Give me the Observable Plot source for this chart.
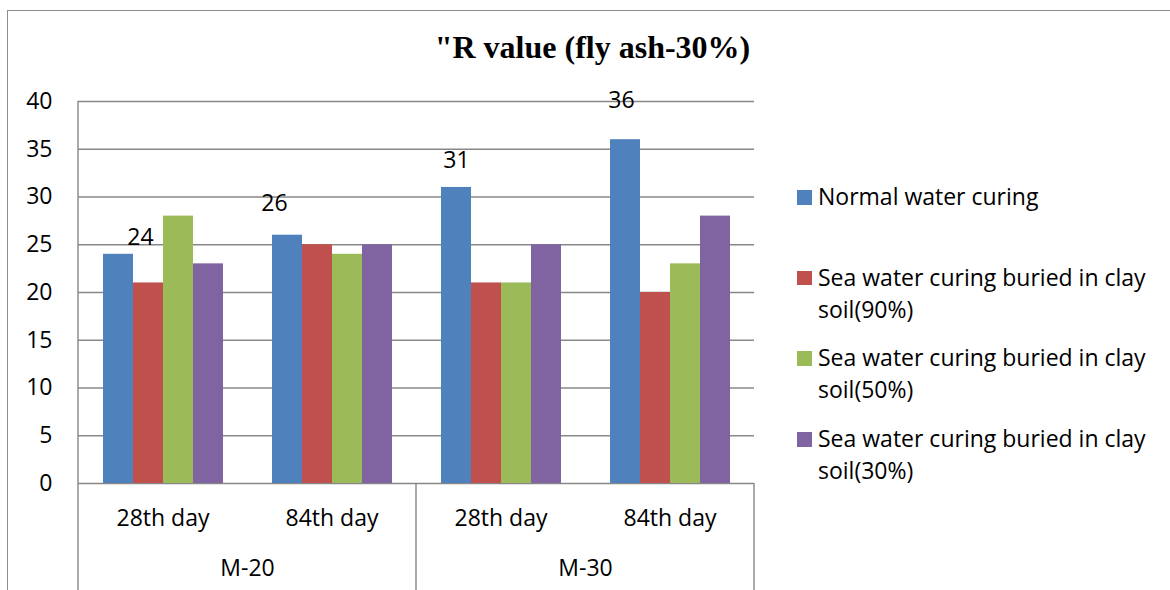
<!DOCTYPE html>
<html>
<head>
<meta charset="utf-8">
<script src="https://cdn.jsdelivr.net/npm/d3@7"></script>
<script src="https://cdn.jsdelivr.net/npm/@observablehq/plot@0.6"></script>
<style>
  body { margin: 0; background: #fff; }
  #wrap { position: relative; width: 1170px; height: 590px; overflow: hidden; font-family: "Open Sans", sans-serif; color: #000; }
  #frame { position: absolute; left: 7px; top: 10px; width: 1300px; height: 700px; border-top: 1.5px solid #8e8e8e; border-left: 1.5px solid #8e8e8e; }
  #title { position: absolute; left: 0; top: 31px; width: 1185px; text-align: center; font: bold 32px/32px "Liberation Serif", "Times New Roman", serif; white-space: nowrap; }
  #chart { position: absolute; left: 0; top: 0; }
  #legend { position: absolute; left: 797px; top: 180px; width: 370px; }
  .entry { position: relative; height: 80.7px; font-size: 23px; line-height: 32px; }
  .sw { position: absolute; left: 0; top: 10px; width: 14.5px; height: 14.5px; }
  .lbl { position: absolute; left: 21px; top: 0; white-space: nowrap; }
</style>
</head>
<body>
<div id="wrap">
  <div id="frame"></div>
  <div id="chart"></div>
  <div id="title"></div>
  <div id="legend"></div>
</div>
<script>
// ---- data ----
const titleText = "\"R value (fly ash-30%)";
const grades = ["M-20", "M-20", "M-30", "M-30"];
const days = ["28th day", "84th day", "28th day", "84th day"];
const seriesNames = [
  "Normal water curing",
  "Sea water curing buried in clay soil(90%)",
  "Sea water curing buried in clay soil(50%)",
  "Sea water curing buried in clay soil(30%)"
];
const legendLines = [
  ["Normal water curing"],
  ["Sea water curing buried in clay", "soil(90%)"],
  ["Sea water curing buried in clay", "soil(50%)"],
  ["Sea water curing buried in clay", "soil(30%)"]
];
const normalWater = [24, 26, 31, 36];
const sea90 = [21, 25, 21, 20];
const sea50 = [28, 24, 21, 23];
const sea30 = [23, 25, 25, 28];
const yTicks = [0, 5, 10, 15, 20, 25, 30, 35, 40];
const colors = ["#4f81bd", "#c0504d", "#9bbb59", "#8064a2"];

// ---- build table ----
const keys = grades.map((g, i) => g + "|" + days[i]);
const seriesValues = [normalWater, sea90, sea50, sea30];
const data = [];
keys.forEach((k, i) => seriesNames.forEach((s, j) => data.push({key: k, series: s, value: seriesValues[j][i]})));
const normalData = data.filter(d => d.series === seriesNames[0]);
// label nudges (px) of Excel's hand-placed data labels
const nudges = [[22, -17], [-13, -32], [0, -27], [-4, -39]];
const gradeLabels = [{key: keys[1], text: "M-20"}, {key: keys[3], text: "M-30"}];

const gridColor = "#878787";

const chart = Plot.plot({
  width: 760,
  height: 590,
  marginLeft: 78,
  marginRight: 6,
  marginTop: 101,
  marginBottom: 107,
  style: {fontFamily: "Open Sans", fontSize: "23px", color: "#000", background: "transparent", overflow: "visible"},
  y: {domain: [0, 40], ticks: yTicks, tickSize: 0, tickPadding: 26, label: null},
  fx: {domain: keys, padding: 0, axis: "bottom", tickSize: 0, tickPadding: 26, label: null, tickFormat: k => k.split("|")[1]},
  x: {domain: seriesNames, paddingInner: 0, paddingOuter: 0.75, axis: null},
  color: {domain: seriesNames, range: colors},
  marks: [
    Plot.gridY(yTicks, {stroke: gridColor, strokeOpacity: 1, strokeWidth: 1.4}),
    Plot.barY(data, {fx: "key", x: "series", y: "value", fill: "series"}),
    ...normalData.map((d, i) => Plot.text([d], {
      fx: "key", x: "series", y: "value", text: d => String(d.value),
      dx: nudges[i][0], dy: nudges[i][1], fill: "#000", fontSize: 23
    })),
    Plot.text(gradeLabels, {fx: "key", text: "text", frameAnchor: "bottom-left", textAnchor: "middle", lineAnchor: "top", dy: 76, fill: "#000", fontSize: 23})
  ]
});

// separators / axis lines derived from the plot's own scales
const fxS = chart.scale("fx");
const yS = chart.scale("y");
const svg = d3.select(chart);
const bw = fxS.bandwidth;
const bottom = 590;
const lines = [
  {x: fxS.apply(keys[0]), y1: yS.apply(40)},
  {x: fxS.apply(keys[2]), y1: yS.apply(0)},
  {x: fxS.apply(keys[3]) + bw, y1: yS.apply(0)}
];
svg.append("g").selectAll("line").data(lines).join("line")
  .attr("x1", d => d.x).attr("x2", d => d.x)
  .attr("y1", d => d.y1).attr("y2", bottom)
  .attr("stroke", gridColor).attr("stroke-width", 1.4);

document.getElementById("chart").appendChild(chart);
document.getElementById("title").textContent = titleText;

const legend = d3.select("#legend");
const entries = legend.selectAll(".entry").data(seriesNames).join("div").attr("class", "entry");
entries.append("div").attr("class", "sw").style("background", (d, i) => colors[i]);
entries.append("div").attr("class", "lbl").html((d, i) => legendLines[i].join("<br>"));
</script>
</body>
</html>
